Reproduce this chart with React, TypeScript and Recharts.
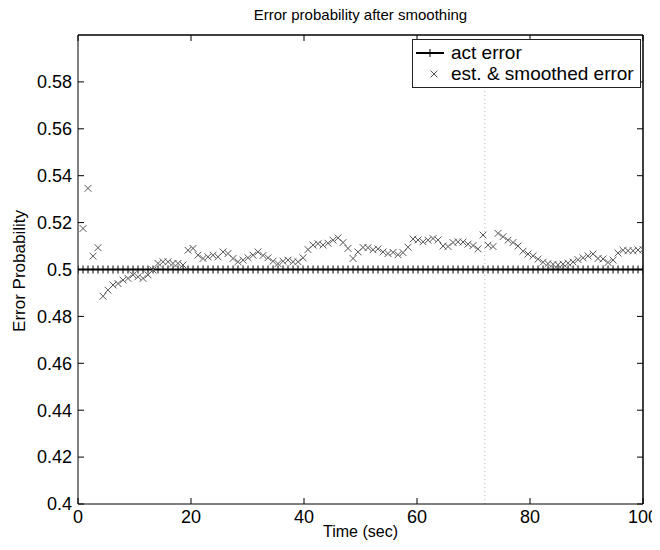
import React from 'react';
import { ComposedChart, Line, XAxis, YAxis, ReferenceLine } from 'recharts';

const sampleTimes = [
  0, 0.89, 1.77, 2.66, 3.54, 4.43, 5.31, 6.2, 7.08, 7.97, 8.85, 9.74, 10.62, 11.51, 12.39, 13.28,
  14.16, 15.05, 15.93, 16.82, 17.7, 18.59, 19.47, 20.36, 21.24, 22.13, 23.01, 23.9, 24.78, 25.67,
  26.55, 27.44, 28.32, 29.21, 30.09, 30.98, 31.86, 32.75, 33.63, 34.52, 35.4, 36.29, 37.17, 38.06,
  38.94, 39.83, 40.71, 41.6, 42.48, 43.37, 44.25, 45.14, 46.02, 46.91, 47.79, 48.68, 49.56, 50.45,
  51.33, 52.22, 53.1, 53.99, 54.87, 55.76, 56.64, 57.53, 58.41, 59.3, 60.18, 61.07, 61.95, 62.84,
  63.72, 64.61, 65.49, 66.38, 67.26, 68.15, 69.03, 69.92, 70.8, 71.69, 72.57, 73.46, 74.34, 75.23,
  76.11, 77.0, 77.88, 78.77, 79.65, 80.54, 81.42, 82.31, 83.19, 84.08, 84.96, 85.85, 86.73, 87.62,
  88.5, 89.39, 90.27, 91.16, 92.04, 92.93, 93.81, 94.7, 95.58, 96.47, 97.35, 98.24, 99.12, 100.0,
];

const actError = [
  0.5, 0.5, 0.5, 0.5, 0.5, 0.5, 0.5, 0.5, 0.5, 0.5, 0.5, 0.5, 0.5, 0.5, 0.5, 0.5, 0.5, 0.5, 0.5, 0.5,
  0.5, 0.5, 0.5, 0.5, 0.5, 0.5, 0.5, 0.5, 0.5, 0.5, 0.5, 0.5, 0.5, 0.5, 0.5, 0.5, 0.5, 0.5, 0.5, 0.5,
  0.5, 0.5, 0.5, 0.5, 0.5, 0.5, 0.5, 0.5, 0.5, 0.5, 0.5, 0.5, 0.5, 0.5, 0.5, 0.5, 0.5, 0.5, 0.5, 0.5,
  0.5, 0.5, 0.5, 0.5, 0.5, 0.5, 0.5, 0.5, 0.5, 0.5, 0.5, 0.5, 0.5, 0.5, 0.5, 0.5, 0.5, 0.5, 0.5, 0.5,
  0.5, 0.5, 0.5, 0.5, 0.5, 0.5, 0.5, 0.5, 0.5, 0.5, 0.5, 0.5, 0.5, 0.5, 0.5, 0.5, 0.5, 0.5, 0.5, 0.5,
  0.5, 0.5, 0.5, 0.5, 0.5, 0.5, 0.5, 0.5, 0.5, 0.5, 0.5, 0.5, 0.5, 0.5,
];

const estError = [
  null,
  0.5175, 0.5346, 0.5057, 0.5093, 0.4886, 0.4912, 0.4934, 0.494, 0.4955, 0.4962,
  0.4977, 0.4969, 0.4962, 0.4977, 0.4998, 0.5026, 0.5033, 0.5033, 0.5026, 0.5026,
  0.5019, 0.5082, 0.509, 0.5061, 0.5047, 0.5054, 0.5061, 0.5054, 0.5075, 0.5068,
  0.5047, 0.5033, 0.504, 0.505, 0.5061, 0.5075, 0.506, 0.505, 0.5035, 0.5025,
  0.5035, 0.504, 0.5033, 0.5033, 0.505, 0.5085, 0.5104, 0.511, 0.5104, 0.5112,
  0.5125, 0.5135, 0.5115, 0.509, 0.5047, 0.5075, 0.5094, 0.5093, 0.5084, 0.5088,
  0.5075, 0.5068, 0.5073, 0.5063, 0.5072, 0.5095, 0.513, 0.5126, 0.5118, 0.5125,
  0.5132, 0.5126, 0.51, 0.5098, 0.5115, 0.5118, 0.5117, 0.5108, 0.5102, 0.5088,
  0.5147, 0.5104, 0.5098, 0.5154, 0.514, 0.5125, 0.5115, 0.51, 0.5078, 0.5066,
  0.5058, 0.5044, 0.5031, 0.5025, 0.5022, 0.502, 0.5023, 0.5027, 0.5032, 0.5042,
  0.505, 0.5058, 0.5066, 0.5047, 0.5045, 0.503, 0.504, 0.507, 0.5082, 0.508,
  0.508, 0.5083, 0.5085,
];

const xTicks = [0, 20, 40, 60, 80, 100];
const yTicks = [0.4, 0.42, 0.44, 0.46, 0.48, 0.5, 0.52, 0.54, 0.56, 0.58];
const xMax = 100;
const yMax = 0.6;

const chartTitle = 'Error probability after smoothing';
const xLabel = 'Time (sec)';
const yLabel = 'Error Probability';
const legendAct = 'act error';
const legendEst = 'est. & smoothed error';

const data = sampleTimes.map((t, i) => ({ t, act: actError[i], est: estError[i] }));

const FONT = '"Liberation Sans", Arial, Helvetica, sans-serif';
const W = 652;
const H = 534;

const fmtY = (v: number) => String(Number(v.toFixed(2)));
const blank = () => '';

const PlusDot = (props: any) => {
  const { cx, cy, index } = props;
  if (cx == null || cy == null) return <g key={`p-${index}`} />;
  return (
    <path
      key={`p-${index}`}
      d={`M${cx - 4},${cy}H${cx + 4}M${cx},${cy - 4}V${cy + 4}`}
      stroke="#000"
      strokeWidth={1}
      fill="none"
    />
  );
};

const CrossDot = (props: any) => {
  const { cx, cy, index } = props;
  if (cx == null || cy == null) return <g key={`x-${index}`} />;
  const r = 3.4;
  return (
    <path
      key={`x-${index}`}
      d={`M${cx - r},${cy - r}L${cx + r},${cy + r}M${cx - r},${cy + r}L${cx + r},${cy - r}`}
      stroke="#555"
      strokeWidth={1}
      fill="none"
    />
  );
};

const tickStyle = { fontSize: 18, fill: '#000', fontFamily: FONT };

export default function App() {
  return (
    <div style={{ position: 'relative', width: W, height: H, fontFamily: FONT }}>
      <ComposedChart
        width={W}
        height={H}
        data={data}
        margin={{ top: 26, right: 16, bottom: 0, left: 0 }}
      >
        <XAxis
          dataKey="t"
          type="number"
          domain={[0, 100]}
          ticks={xTicks}
          allowDataOverflow
          height={38}
          tickSize={-6}
          tickMargin={12}
          tick={tickStyle}
          axisLine={{ stroke: '#000' }}
          tickLine={{ stroke: '#000' }}
        />
        <XAxis
          xAxisId="top"
          orientation="top"
          dataKey="t"
          type="number"
          domain={[0, 100]}
          ticks={xTicks}
          allowDataOverflow
          height={1}
          tickSize={-6}
          tickFormatter={blank}
          axisLine={{ stroke: '#000' }}
          tickLine={{ stroke: '#000' }}
        />
        <YAxis
          type="number"
          domain={[0.4, 0.6]}
          ticks={yTicks}
          allowDataOverflow
          width={70}
          tickSize={-6}
          tickMargin={12}
          tickFormatter={fmtY}
          tick={tickStyle}
          axisLine={{ stroke: '#000' }}
          tickLine={{ stroke: '#000' }}
        />
        <YAxis
          yAxisId="right"
          orientation="right"
          type="number"
          domain={[0.4, 0.6]}
          ticks={yTicks}
          allowDataOverflow
          width={1}
          tickSize={-6}
          tickFormatter={blank}
          axisLine={{ stroke: '#000' }}
          tickLine={{ stroke: '#000' }}
        />
        <ReferenceLine x={72} stroke="#bbb" strokeDasharray="1 3" strokeWidth={1} />
        <ReferenceLine y={yMax} stroke="#000" strokeWidth={1} />
        <ReferenceLine x={xMax} stroke="#000" strokeWidth={1} />
        <Line
          xAxisId="top"
          yAxisId="right"
          dataKey="act"
          stroke="none"
          dot={false}
          activeDot={false}
          legendType="none"
          isAnimationActive={false}
        />
        <Line
          dataKey="act"
          stroke="#000"
          strokeWidth={2}
          dot={PlusDot}
          activeDot={false}
          isAnimationActive={false}
        />
        <Line
          dataKey="est"
          stroke="none"
          dot={CrossDot}
          activeDot={false}
          isAnimationActive={false}
        />
      </ComposedChart>

      <div
        style={{
          position: 'absolute',
          left: 70,
          width: 565,
          textAlign: 'center',
          top: -2,
          fontSize: 15,
          color: '#000',
        }}
      >
        {chartTitle}
      </div>

      <div
        style={{
          position: 'absolute',
          left: 70,
          width: 565,
          textAlign: 'center',
          top: 515,
          fontSize: 16,
          lineHeight: '18px',
          color: '#000',
        }}
      >
        {xLabel}
      </div>

      <div
        style={{
          position: 'absolute',
          left: 12,
          top: 263,
          width: 0,
          height: 0,
        }}
      >
        <div
          style={{
            position: 'absolute',
            transform: 'translate(-50%, -50%) rotate(-90deg)',
            whiteSpace: 'nowrap',
            fontSize: 17,
            color: '#000',
            left: 0,
            top: 0,
          }}
        >
          {yLabel}
        </div>
      </div>

      <div
        style={{
          position: 'absolute',
          left: 404,
          top: 31,
          width: 229,
          height: 49,
          border: '1px solid #222',
          background: '#fff',
          boxSizing: 'border-box',
          fontSize: 19,
          color: '#000',
        }}
      >
        <div style={{ position: 'absolute', left: 0, top: 3, height: 20, width: 226, display: 'flex', alignItems: 'center' }}>
          <svg width={36} height={20} style={{ flex: 'none' }}>
            <path d="M3,10H31" stroke="#000" strokeWidth={2} />
            <path d="M17,6V14" stroke="#000" strokeWidth={1} />
          </svg>
          <span style={{ marginLeft: 2, lineHeight: '20px' }}>{legendAct}</span>
        </div>
        <div style={{ position: 'absolute', left: 0, top: 24, height: 20, width: 226, display: 'flex', alignItems: 'center' }}>
          <svg width={36} height={20} style={{ flex: 'none' }}>
            <path d="M17.6,6.6L24.4,13.4M17.6,13.4L24.4,6.6" stroke="#555" strokeWidth={1} />
          </svg>
          <span style={{ marginLeft: 2, lineHeight: '20px' }}>{legendEst}</span>
        </div>
      </div>
    </div>
  );
}
